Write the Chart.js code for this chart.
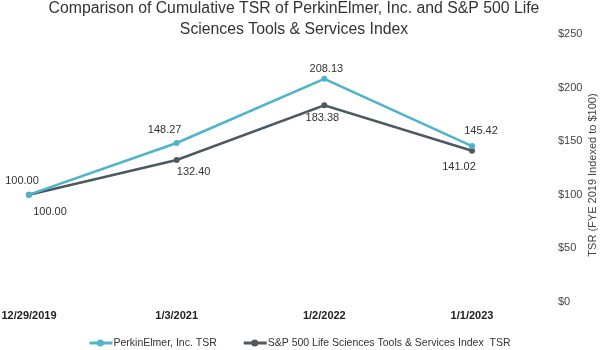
<!DOCTYPE html>
<html>
<head>
<meta charset="utf-8">
<script src="https://cdn.jsdelivr.net/npm/chart.js@4.4.1/dist/chart.umd.min.js"></script>
<style>
  html, body { margin: 0; padding: 0; background: #fff; }
  #wrap { width: 600px; height: 350px; position: relative; }
</style>
</head>
<body>
<div id="wrap"><canvas id="grafico"></canvas></div>
<script>
const datas = ['12/29/2019', '1/3/2021', '1/2/2022', '1/1/2023'];
const tsrPerkin = [100.00, 148.27, 208.13, 145.42];
const tsrIndice = [100.00, 132.40, 183.38, 141.02];
const ticksY = [0, 50, 100, 150, 200, 250];

const azul = '#4db5ca';
const cinza = '#4d5961';
const fonte = '"Liberation Sans", Arial, sans-serif';

// rótulos de valor: azul acima, cinza abaixo
const rotulosPlugin = {
  id: 'rotulos',
  afterDatasetsDraw(chart, args, opts) {
    const ctx = chart.ctx;
    ctx.save();
    ctx.font = '11px ' + fonte;
    ctx.fillStyle = '#333';
    ctx.textAlign = 'center';
    ctx.textBaseline = 'middle';
    chart.data.datasets.forEach((ds, i) => {
      const meta = chart.getDatasetMeta(i);
      const desloc = opts.deslocamentos[i];
      meta.data.forEach((pt, j) => {
        ctx.fillText(ds.data[j].toFixed(2), pt.x + desloc[j][0], pt.y + desloc[j][1]);
      });
    });
    ctx.restore();
  }
};

// título, título do eixo e legenda desenhados à mão
const textosPlugin = {
  id: 'textos',
  afterDraw(chart) {
    const ctx = chart.ctx;
    ctx.save();
    ctx.fillStyle = '#333';
    ctx.textAlign = 'center';
    ctx.textBaseline = 'middle';
    ctx.font = '15.8px ' + fonte;
    ctx.fillText('Comparison of Cumulative TSR of PerkinElmer, Inc. and S&P 500 Life', 294, 9);
    ctx.fillText('Sciences Tools & Services Index', 294, 30);
    ctx.restore();

    ctx.save();
    ctx.translate(593, 175);
    ctx.rotate(-Math.PI / 2);
    ctx.font = '11px ' + fonte;
    ctx.fillStyle = '#444';
    ctx.textAlign = 'center';
    ctx.textBaseline = 'middle';
    ctx.fillText('TSR (FYE 2019 Indexed to $100)', 0, 0);
    ctx.restore();

    // legenda: linha com marcador + texto
    ctx.save();
    ctx.font = '10.5px ' + fonte;
    ctx.textBaseline = 'middle';
    ctx.textAlign = 'left';
    const linha = 24, gap = 27, yLeg = 343;
    const itens = chart.data.datasets.map(ds => ({ ds, w: linha + ctx.measureText(ds.label).width }));
    const total = itens.reduce((s, it) => s + it.w, 0) + gap * (itens.length - 1);
    let x = 300 - total / 2;
    itens.forEach(it => {
      ctx.strokeStyle = it.ds.borderColor;
      ctx.fillStyle = it.ds.borderColor;
      ctx.lineWidth = 3;
      ctx.beginPath();
      ctx.moveTo(x, yLeg);
      ctx.lineTo(x + linha - 1, yLeg);
      ctx.stroke();
      ctx.beginPath();
      ctx.arc(x + linha / 2 - 1, yLeg, 3.5, 0, Math.PI * 2);
      ctx.fill();
      ctx.fillStyle = '#333';
      ctx.fillText(it.ds.label, x + linha, yLeg);
      x += it.w + gap;
    });
    ctx.restore();
  }
};

new Chart(document.getElementById('grafico'), {
  type: 'line',
  data: {
    labels: datas,
    datasets: [{
      label: 'PerkinElmer, Inc. TSR',
      data: tsrPerkin,
      borderColor: azul,
      backgroundColor: azul,
      borderWidth: 2.5,
      pointRadius: 3,
      pointBorderWidth: 0,
      pointBackgroundColor: azul,
      tension: 0
    }, {
      label: 'S&P 500 Life Sciences Tools & Services Index  TSR',
      data: tsrIndice,
      borderColor: cinza,
      backgroundColor: cinza,
      borderWidth: 2.5,
      pointRadius: 3,
      pointBorderWidth: 0,
      pointBackgroundColor: cinza,
      tension: 0
    }]
  },
  options: {
    responsive: true,
    maintainAspectRatio: false,
    animation: false,
    layout: { padding: { top: 34, bottom: 27, left: 0, right: 0 } },
    plugins: {
      title: { display: false },
      tooltip: { enabled: false },
      legend: { display: false },
      rotulos: {
        deslocamentos: [
          [[-7, -14], [-12, -13], [2, -10], [9, -15]],
          [[21, 17], [17, 12], [-2, 13], [-13, 16]]
        ]
      }
    },
    scales: {
      x: {
        offset: false,
        grid: { display: false },
        border: { display: false },
        afterFit(scale) {
          scale.paddingLeft = 29;
          scale.paddingRight = 0;
        },
        ticks: {
          color: '#222',
          padding: 0,
          maxRotation: 0,
          font: { family: fonte, size: 11, weight: 'bold' }
        }
      },
      y: {
        position: 'right',
        min: 0,
        max: 250,
        grid: { display: false },
        border: { display: false },
        afterFit(scale) {
          scale.width = 128;
          scale.paddingTop = 0;
          scale.paddingBottom = 0;
        },
        afterBuildTicks(scale) { scale.ticks = ticksY.map(v => ({ value: v })); },
        ticks: {
          color: '#444',
          padding: 78,
          font: { family: fonte, size: 11 },
          callback: v => '$' + v
        }
      }
    }
  },
  plugins: [rotulosPlugin, textosPlugin]
});
</script>
</body>
</html>
